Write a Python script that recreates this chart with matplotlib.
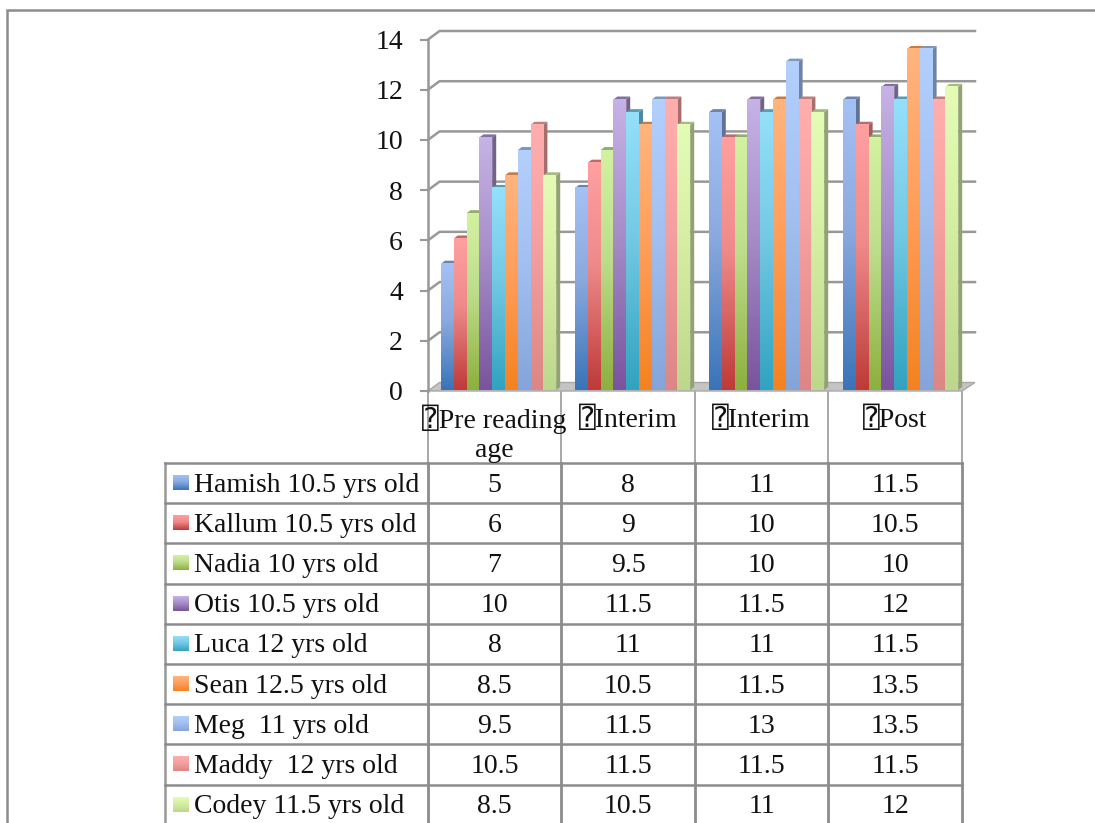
import numpy as np
import matplotlib
matplotlib.use("Agg")
import matplotlib.pyplot as plt
from matplotlib.patches import Polygon

# --- data ---
stages = ["\u2370Pre reading\nage", "\u2370Interim", "\u2370Interim", "\u2370Post"]
names = ["Hamish 10.5 yrs old", "Kallum 10.5 yrs old", "Nadia 10 yrs old",
         "Otis 10.5 yrs old", "Luca 12 yrs old", "Sean 12.5 yrs old",
         "Meg  11 yrs old", "Maddy  12 yrs old", "Codey 11.5 yrs old"]
hamish = [5, 8, 11, 11.5]
kallum = [6, 9, 10, 10.5]
nadia = [7, 9.5, 10, 10]
otis = [10, 11.5, 11.5, 12]
luca = [8, 11, 11, 11.5]
sean = [8.5, 10.5, 11.5, 13.5]
meg = [9.5, 11.5, 13, 13.5]
maddy = [10.5, 11.5, 11.5, 11.5]
codey = [8.5, 10.5, 11, 12]
series = [hamish, kallum, nadia, otis, luca, sean, meg, maddy, codey]
y_ticks = [0, 2, 4, 6, 8, 10, 12, 14]

# top / middle / bottom colour of each bar
bar_colors = [("#A3C1F4", "#8BA9DE", "#3A74B8"),
              ("#FF9F9F", "#EE8A8A", "#BE3B39"),
              ("#D2F2A2", "#BEDD8C", "#8DB03F"),
              ("#C6B2E6", "#A78FC9", "#7A549E"),
              ("#95DFFA", "#74C9E4", "#31A3C0"),
              ("#FFB47E", "#FF9F5C", "#F58220"),
              ("#B3CFFD", "#A3C0F0", "#85A5DA"),
              ("#FFAEAE", "#F5A0A0", "#DC8685"),
              ("#E4FCB6", "#D6EEA4", "#BDD78C")]

W, H = 1095, 823
GREY = "#989898"
TEXT = "#111111"
FONT = ["Liberation Serif", "DejaVu Sans", "DejaVu Sans Mono"]
FS = 20
plt.rcParams["font.family"] = FONT

# chart geometry in pixels
LEFT, RIGHT = 428, 975
Y0, Y14 = 391, 39.5
WALL_DX, WALL_DY = 11.5, 8.5
BAR_X0, PITCH, BAR_W = 441, 134, 12.8
BAR_Y0, BAR_SCALE = 390, 25.26
SIDE_DX, SIDE_DY = 4, 3


def to_rgb_array(stops):
    rows = np.array([matplotlib.colors.to_rgb(c) for c in stops])
    pos = np.linspace(0, 1, 64)
    out = np.zeros((64, 1, 3))
    for k in range(3):
        out[:, 0, k] = np.interp(pos, [0, 0.45, 1], rows[:, k])
    return out


def shade(color, f):
    return tuple(c * f for c in matplotlib.colors.to_rgb(color))


def px_axes(x0, x1, y_top, y_bottom):
    return fig.add_axes([x0 / W, 1 - y_bottom / H, (x1 - x0) / W, (y_bottom - y_top) / H])


fig = plt.figure(figsize=(W / 100, H / 100), dpi=100)

# --- page frame and table, in pixel coordinates ---
page = fig.add_axes([0, 0, 1, 1], zorder=0)
page.set_xlim(0, W)
page.set_ylim(H, 0)
page.axis("off")
page.set_autoscale_on(False)
page.plot([7, 7, W], [H, 10, 10], color="#8c8c8c", lw=1.8, solid_joinstyle="miter")

col_x = [428, 561, 695, 828, 962]
row_top = 463
row_h = 40.2
for x in col_x:
    page.plot([x, x], [392, row_top], color=GREY, lw=1.2)
    page.plot([x, x], [row_top, H], color="#8c8c8c", lw=2.0)
page.plot([165, 165], [row_top, H], color=GREY, lw=1.8)
for r in range(len(names)):
    y = row_top + r * row_h
    page.plot([165, col_x[-1]], [y, y], color="#8c8c8c", lw=1.8)

for j, label in enumerate(stages):
    cx = (col_x[j] + col_x[j + 1]) / 2
    for n, part in enumerate(label.split("\n")):
        page.text(cx, 419.5 + n * 31, part, ha="center", va="center", fontsize=FS, color=TEXT)

for r, name in enumerate(names):
    cy = row_top + (r + 0.5) * row_h
    page.imshow(to_rgb_array(bar_colors[r]), extent=(173, 189, cy + 7, cy - 8),
                origin="upper", aspect="auto", interpolation="bilinear", zorder=2)
    page.text(194, cy + 2, name, ha="left", va="center", fontsize=FS, color=TEXT)
    for j, v in enumerate(series[r]):
        page.text((col_x[j] + col_x[j + 1]) / 2, cy + 2, f"{v:g}", ha="center", va="center",
                  fontsize=FS, color=TEXT)

# --- value axis, back wall and floor ---
y_per_px = 14 / (Y0 - Y14)
top_px = Y14 - WALL_DY
ax = px_axes(LEFT, RIGHT, top_px, Y0)
ax.set_zorder(1)
ax.patch.set_alpha(0)
ax.set_xlim(LEFT, RIGHT)
ax.set_ylim(0, (Y0 - top_px) * y_per_px)
for s in ["top", "right", "bottom"]:
    ax.spines[s].set_visible(False)
ax.spines["left"].set_color(GREY)
ax.spines["left"].set_linewidth(1.8)
ax.spines["left"].set_bounds(0, 14)
ax.set_xticks([])
ax.set_yticks(y_ticks)
ax.tick_params(axis="y", length=6, width=1.5, color=GREY, labelsize=FS, labelcolor=TEXT, pad=12)
dy = WALL_DY * y_per_px
for v in y_ticks[1:]:
    ax.plot([LEFT, LEFT + WALL_DX, RIGHT], [v, v + dy, v + dy], color=GREY, lw=1.8,
            clip_on=False)
ax.add_patch(Polygon([(LEFT, 0), (LEFT + WALL_DX, dy), (RIGHT, dy), (RIGHT - 13, 0)],
                     closed=True, facecolor="#c4c4c4", edgecolor="#a8a8a8", lw=1,
                     clip_on=False))

# --- bars, on their own value scale (the 3D front plane) ---
bars_top = Y14 - WALL_DY
bx = px_axes(LEFT, RIGHT, bars_top, BAR_Y0)
bx.set_zorder(2)
bx.patch.set_alpha(0)
bx.axis("off")
bx.set_xlim((LEFT - BAR_X0) / PITCH, (RIGHT - BAR_X0) / PITCH)
bx.set_ylim(0, (BAR_Y0 - bars_top) / BAR_SCALE)
bx.set_autoscale_on(False)

bw = BAR_W / PITCH
side_x = SIDE_DX / PITCH
side_y = SIDE_DY / BAR_SCALE
for i, values in enumerate(series):
    top, mid, bottom = bar_colors[i]
    grad = to_rgb_array(bar_colors[i])
    for j, v in enumerate(values):
        x0 = j + i * bw
        x1 = x0 + bw
        z = 3 + i
        bx.add_patch(Polygon([(x1, 0), (x1 + side_x, side_y), (x1 + side_x, v + side_y), (x1, v)],
                             closed=True, facecolor=shade(mid, 0.68), edgecolor="none", zorder=z))
        bx.add_patch(Polygon([(x0, v), (x0 + side_x, v + side_y), (x1 + side_x, v + side_y), (x1, v)],
                             closed=True, facecolor=shade(mid, 0.78), edgecolor="none", zorder=z))
        bx.imshow(grad, extent=(x0, x1, 0, v), origin="upper", aspect="auto",
                  interpolation="bilinear", zorder=z + 0.5)

fig.savefig("out.png", dpi=100)
